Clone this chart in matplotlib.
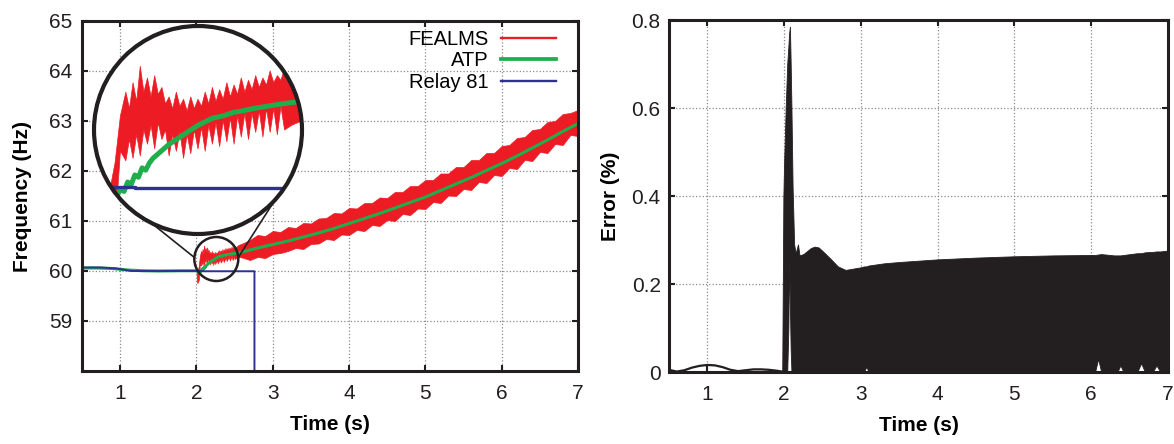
import numpy as np
import matplotlib
matplotlib.use('Agg')
import matplotlib.pyplot as plt
from matplotlib.patches import Circle, Ellipse
from matplotlib.lines import Line2D

plt.rcParams['font.family'] = ['Liberation Sans', 'DejaVu Sans']

RED = '#ed1c24'
GREEN = '#1fae4b'
BLUE = '#2e3192'
INK = '#231f20'

# ── left panel: frequency estimates ──────────────────────────────────────────
atp_t = [0.5, 0.7, 0.9, 1.1, 1.3, 1.5, 1.8, 2.0, 2.02, 2.035, 2.045, 2.055,
         2.065, 2.075, 2.085, 2.095, 2.105, 2.115, 2.125, 2.135, 2.15, 2.18,
         2.20, 2.22, 2.24, 2.26, 2.28, 2.30, 2.33, 2.36, 2.38, 2.41, 2.45,
         2.49, 2.54, 2.6, 2.7, 2.8, 3.0, 3.2, 3.4, 3.6, 3.8, 4.0,
         4.2, 4.4, 4.6, 4.8, 5.0, 5.2, 5.4, 5.6, 5.8, 6.0, 6.2, 6.4, 6.6, 6.8,
         7.0]
atp_f = [60.06, 60.06, 60.05, 60.02, 60.005, 60.0, 60.005, 60.005, 59.99,
         59.96, 59.99, 59.98, 60.02, 60.01, 60.05, 60.04, 60.08, 60.07, 60.10,
         60.12, 60.14, 60.18, 60.20, 60.22, 60.24, 60.26, 60.275, 60.29,
         60.30, 60.315, 60.32, 60.33, 60.34, 60.35, 60.36, 60.38, 60.42, 60.46,
         60.53, 60.60, 60.68, 60.76, 60.85, 60.95, 61.05, 61.15, 61.26, 61.37,
         61.48, 61.61, 61.74, 61.87, 62.01, 62.15, 62.30, 62.46, 62.62, 62.79,
         62.95]

relay_t = [0.5, 0.75, 0.95, 1.15, 2.085, 2.085, 2.76, 2.76]
relay_f = [60.07, 60.07, 60.05, 60.0, 60.0, 59.995, 59.995, 57.0]

# FEALMS estimate: upper / lower envelope of the oscillating trace
fe_t = [2.0, 2.01, 2.02, 2.03, 2.045, 2.06, 2.07, 2.08, 2.09, 2.10, 2.11,
        2.12, 2.13, 2.14, 2.15, 2.16, 2.17, 2.18, 2.19, 2.20, 2.21, 2.22,
        2.23, 2.24, 2.25, 2.26, 2.27, 2.28, 2.29, 2.30, 2.31, 2.32, 2.33,
        2.34, 2.35, 2.36, 2.37, 2.38, 2.39, 2.40, 2.41, 2.42, 2.43, 2.44,
        2.45, 2.46, 2.47, 2.48, 2.49, 2.50, 2.52, 2.55, 2.60, 2.7, 2.8, 2.9,
        3.0, 3.1, 3.2, 3.3, 3.4, 3.5, 3.6, 3.7, 3.8, 3.9, 4.0, 4.1, 4.2, 4.3,
        4.4, 4.5, 4.6, 4.7, 4.8, 4.9, 5.0, 5.1, 5.2, 5.3, 5.4, 5.5, 5.6, 5.7,
        5.8, 5.9, 6.0, 6.1, 6.2, 6.3, 6.4, 6.5, 6.6, 6.7, 6.8, 6.9, 7.0]
fe_hi = [60.0, 60.0, 60.02, 60.10, 60.30, 60.40, 60.33, 60.44, 60.36, 60.51,
         60.40, 60.46, 60.38, 60.47, 60.39, 60.42, 60.35, 60.38, 60.33, 60.40,
         60.34, 60.37, 60.32, 60.38, 60.33, 60.37, 60.34, 60.40, 60.35, 60.42,
         60.36, 60.41, 60.37, 60.44, 60.38, 60.43, 60.39, 60.46, 60.40, 60.45,
         60.41, 60.47, 60.42, 60.46, 60.43, 60.49, 60.44, 60.47, 60.45, 60.50,
         60.48, 60.52, 60.55, 60.62, 60.72, 60.70, 60.80, 60.78, 60.88, 60.86,
         60.96, 60.95, 61.05, 61.06, 61.16, 61.15, 61.26, 61.25, 61.36, 61.36,
         61.47, 61.46, 61.58, 61.58, 61.70, 61.70, 61.82, 61.82, 61.95, 61.95,
         62.08, 62.08, 62.22, 62.22, 62.36, 62.36, 62.50, 62.52, 62.66, 62.68,
         62.82, 62.84, 62.98, 63.00, 63.14, 63.16, 63.22]
fe_lo = [60.0, 59.76, 59.78, 59.82, 60.15, 60.11, 60.20, 60.12, 60.22, 60.13,
         60.24, 60.18, 60.26, 60.16, 60.27, 60.20, 60.24, 60.13, 60.22, 60.15,
         60.23, 60.12, 60.22, 60.14, 60.24, 60.16, 60.25, 60.15, 60.26, 60.18,
         60.27, 60.17, 60.28, 60.19, 60.29, 60.18, 60.30, 60.21, 60.31, 60.20,
         60.31, 60.23, 60.32, 60.21, 60.33, 60.23, 60.33, 60.22, 60.34, 60.24,
         60.26, 60.28, 60.27, 60.22, 60.28, 60.26, 60.34, 60.36, 60.40, 60.46,
         60.44, 60.54, 60.55, 60.64, 60.62, 60.73, 60.72, 60.82, 60.80, 60.92,
         60.90, 61.02, 61.00, 61.14, 61.12, 61.25, 61.24, 61.38, 61.36, 61.51,
         61.50, 61.64, 61.62, 61.78, 61.76, 61.92, 61.90, 62.06, 62.04, 62.22,
         62.20, 62.38, 62.36, 62.54, 62.52, 62.72, 62.70]

freq_ticks = [59, 60, 61, 62, 63, 64, 65]
time_ticks = [1, 2, 3, 4, 5, 6, 7]

# ── right panel: estimation error ────────────────────────────────────────────
pre_t = [0.5, 0.6, 0.7, 0.8, 0.9, 1.0, 1.1, 1.2, 1.3, 1.4, 1.5, 1.6, 1.7,
         1.8, 1.9, 1.97]
pre_e = [0.005, 0.001, 0.004, 0.010, 0.014, 0.016, 0.015, 0.011, 0.005,
         0.002, 0.004, 0.006, 0.006, 0.005, 0.003, 0.001]

err_t = [1.975, 1.99, 2.0, 2.02, 2.04, 2.055, 2.065, 2.075, 2.085, 2.095,
         2.11, 2.13, 2.15, 2.18, 2.20, 2.25, 2.30, 2.35, 2.40, 2.45, 2.50,
         2.60, 2.70, 2.80, 2.90, 3.00, 3.04, 3.07, 3.10, 3.30, 3.50, 4.00,
         4.50, 5.00, 5.50, 6.00, 6.05, 6.09, 6.13, 6.30, 6.34, 6.38, 6.42,
         6.60, 6.65, 6.70, 6.80, 6.85, 6.90, 7.00]
err_hi = [0.0, 0.40, 0.48, 0.60, 0.70, 0.74, 0.77, 0.785, 0.70, 0.60,
          0.42, 0.29, 0.27, 0.29, 0.265, 0.268, 0.275, 0.282, 0.285, 0.283,
          0.275, 0.258, 0.240, 0.232, 0.235, 0.238, 0.240, 0.240, 0.242,
          0.247, 0.250, 0.256, 0.260, 0.263, 0.265, 0.266, 0.266, 0.267,
          0.268, 0.265, 0.265, 0.265, 0.266, 0.270, 0.270, 0.272, 0.273,
          0.274, 0.274, 0.276]
err_lo = [0.0, 0.0, 0.0, 0.0, 0.0, 0.10, 0.26, 0.15, 0.05, 0.0,
          0.0, 0.0, 0.0, 0.0, 0.0, 0.0, 0.0, 0.0, 0.0, 0.0,
          0.0, 0.0, 0.0, 0.0, 0.0, 0.0, 0.0, 0.012, 0.0,
          0.0, 0.0, 0.0, 0.0, 0.0, 0.0, 0.0, 0.0, 0.03,
          0.0, 0.0, 0.0, 0.015, 0.0, 0.0, 0.02, 0.0, 0.0,
          0.015, 0.0, 0.0]

err_ticks = [0, 0.2, 0.4, 0.6, 0.8]
err_labels = ['0', '0.2', '0.4', '0.6', '0.8']

# zoom window (centre of the small circle, in data units)
zoom_c = (2.26, 60.24)

W, H = 1174, 444
fig = plt.figure(figsize=(W / 100, H / 100), dpi=100)
ax1 = fig.add_axes([82 / W, 1 - 371 / H, 496 / W, 350 / H])
ax2 = fig.add_axes([669 / W, 1 - 372 / H, 499 / W, 352 / H])


def style(ax):
    for s in ax.spines.values():
        s.set_linewidth(2.2)
        s.set_color(INK)
    ax.tick_params(direction='in', length=4, width=1.5, top=True, right=True,
                   labelsize=15, color=INK, labelcolor=INK)
    ax.tick_params(axis='x', pad=9)
    ax.tick_params(axis='y', pad=7)
    ax.grid(True, ls=':', color='#8a8a8a', lw=0.9)
    ax.set_axisbelow(True)
    ax.set_xlim(0.5, 7)
    ax.set_xticks(time_ticks)
    ax.set_xlabel('Time (s)', fontsize=15, fontweight='bold', labelpad=9)


def draw_freq(ax, lw_g, lw_b):
    arts = []
    arts.append(ax.fill_between(fe_t, fe_lo, fe_hi, color=RED, lw=0.5))
    arts += ax.plot(atp_t, atp_f, color=GREEN, lw=lw_g, solid_joinstyle='round')
    arts += ax.plot(relay_t, relay_f, color=BLUE, lw=lw_b)
    return arts


# ── left panel ──
style(ax1)
draw_freq(ax1, 2.2, 1.4)
ax1.set_ylim(58.0, 65)
ax1.set_yticks(freq_ticks)
ax1.set_ylabel('Frequency (Hz)', fontsize=15, fontweight='bold', labelpad=12)

handles = [Line2D([], [], color=RED, lw=1.7),
           Line2D([], [], color=GREEN, lw=2.7),
           Line2D([], [], color=BLUE, lw=1.7)]
leg = ax1.legend(handles, ['FEALMS', 'ATP', 'Relay 81'], loc='upper right',
                 bbox_to_anchor=(0.956, 0.975), frameon=False, markerfirst=False,
                 fontsize=14.5, handlelength=2.75, handletextpad=0.6,
                 labelspacing=0.12, borderpad=0, borderaxespad=0)
for col in leg._legend_handle_box.get_children():
    col.align = 'right'

# small circle + magnified inset
r_small, R_big = 22.0, 104.0
big_c = np.array([198.0, H - 130.0])
sx, sy = ax1.transData.transform(zoom_c)
ppx = ax1.bbox.width / 6.5
ppy = ax1.bbox.height / 7.0
ax1.add_patch(Ellipse(zoom_c, 2 * r_small / ppx, 2 * r_small / ppy, fill=False,
                      ec=INK, lw=1.8, zorder=6))

ax_in = fig.add_axes([(big_c[0] - R_big) / W, (big_c[1] - R_big) / H,
                      2 * R_big / W, 2 * R_big / H])
ax_in.set_axis_off()
ax_in.add_patch(Circle((0.5, 0.5), 0.5, transform=ax_in.transAxes,
                       fc='white', ec='none', zorder=0))
clip = Circle((0.5, 0.5), 0.5, transform=ax_in.transAxes)
for a in draw_freq(ax_in, 3.6, 2.4):
    a.set_clip_path(clip)
ax_in.set_xlim(zoom_c[0] - r_small / ppx, zoom_c[0] + r_small / ppx)
ax_in.set_ylim(zoom_c[1] - r_small / ppy, zoom_c[1] + r_small / ppy)
ax_in.add_patch(Circle((0.5, 0.5), 0.5, transform=ax_in.transAxes, fill=False,
                       ec=INK, lw=3.0, zorder=10, clip_on=False))

# connector lines (angles in degrees on small / big circle)
for a_small, a_big in [(176, -116.8), (4, -42.3)]:
    p0 = (sx + r_small * np.cos(np.radians(a_small)),
          sy + r_small * np.sin(np.radians(a_small)))
    p1 = big_c + R_big * np.array([np.cos(np.radians(a_big)),
                                   np.sin(np.radians(a_big))])
    fig.add_artist(Line2D([p0[0] / W, p1[0] / W], [p0[1] / H, p1[1] / H],
                          transform=fig.transFigure, color=INK, lw=1.2))

# ── right panel ──
style(ax2)
ax2.plot(pre_t, pre_e, color=INK, lw=1.6)
ax2.fill_between(err_t, err_lo, err_hi, color=INK, lw=0.6)
ax2.set_ylim(0, 0.8)
ax2.set_yticks(err_ticks)
ax2.set_yticklabels(err_labels)
ax2.tick_params(axis='y', pad=6)
ax2.set_ylabel('Error (%)', fontsize=15, fontweight='bold', labelpad=8)

fig.savefig('out.png', dpi=100, facecolor='white')
